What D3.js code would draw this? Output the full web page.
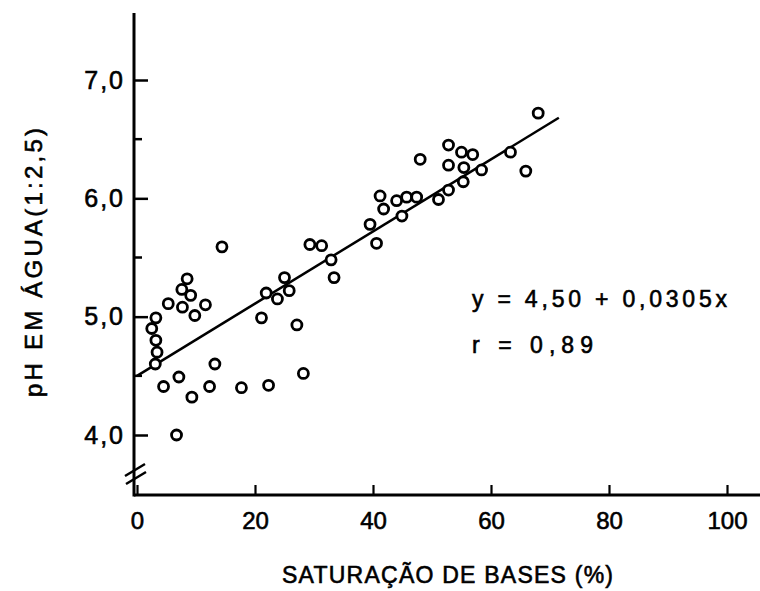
<!DOCTYPE html>
<html>
<head>
<meta charset="utf-8">
<script src="https://cdn.jsdelivr.net/npm/d3@7"></script>
<style>
  body { margin: 0; background: #fff; }
  svg text { font-family: "Liberation Sans", Arial, sans-serif; fill: #000; stroke: #000; stroke-width: 0.6px; }
</style>
</head>
<body>
<div id="chart"></div>
<script>
'use strict';
(function(){

	// data: base saturation (%) vs pH in water
	var satBases = [14.4, 8.5, 7.6, 9.1, 5.3, 7.7, 11.6, 9.8, 3.2, 2.5, 3.2, 3.4, 3.1,
		4.5, 7.1, 9.3, 12.3, 13.2, 17.7, 22.3, 28.2, 27.1, 21.1, 21.9, 23.8, 25.0, 25.8,
		29.3, 31.3, 32.9, 33.4, 6.7,
		68.0, 63.3, 65.9, 48.0, 52.8, 55.0, 56.9, 52.8, 55.4, 58.4, 55.3, 52.8, 51.1,
		41.2, 41.8, 44.0, 45.7, 47.4, 44.9, 39.5, 40.6];
	var phAgua = [5.59, 5.32, 5.23, 5.18, 5.11, 5.08, 5.10, 5.01, 4.99, 4.90, 4.80, 4.70, 4.60,
		4.41, 4.49, 4.32, 4.41, 4.60, 4.40, 4.42, 4.52, 4.93, 4.99, 5.20, 5.15, 5.33, 5.22,
		5.61, 5.60, 5.48, 5.33, 4.00,
		6.72, 6.39, 6.23, 6.33, 6.45, 6.39, 6.37, 6.28, 6.26, 6.24, 6.14, 6.07, 5.99,
		6.02, 5.91, 5.98, 6.01, 6.01, 5.85, 5.78, 5.62];

	var xTicks = [0, 20, 40, 60, 80, 100];
	var yTicks = [4, 5, 6, 7];
	var yMinorTicks = [4.5, 5.5, 6.5];

	// regression y = 4,50 + 0,0305x, drawn over x = 0 .. 71.5
	var intercept = 4.50, slope = 0.0305;
	var fitRange = [0, 71.5];

	var eqText = 'y = 4,50 + 0,0305x';
	var rText = 'r = 0,89';
	var xTitle = 'SATURAÇÃO DE BASES (%)';
	var yTitle = 'pH EM ÁGUA(1:2,5)';

	var width = 760, height = 591;
	var svg = d3.select('#chart').append('svg')
		.attr('width', width)
		.attr('height', height);

	var x = d3.scaleLinear().domain([0, 100]).range([137, 727]);
	var y = d3.scaleLinear().domain([4, 7]).range([435, 80]);
	var axisY = 495, axisX = 134, axisTop = 13;

	var comma = d3.formatLocale({decimal: ',', thousands: '.', grouping: [3], currency: ['', '']}).format('.1f');

	// x axis, ticks pointing up into the plot
	var gx = svg.append('g')
		.attr('transform', 'translate(0,' + axisY + ')')
		.call(d3.axisBottom(x).tickValues(xTicks).tickSizeInner(-10).tickSizeOuter(0).tickPadding(17));
	gx.select('.domain').remove();
	gx.selectAll('.tick line').attr('stroke', '#000').attr('stroke-width', 2.2);
	gx.selectAll('.tick text').attr('font-size', 24).attr('dy', '0.71em').attr('fill', '#000');

	svg.append('line')
		.attr('x1', axisX).attr('x2', 760)
		.attr('y1', axisY).attr('y2', axisY)
		.attr('stroke', '#000').attr('stroke-width', 3);

	// y axis, ticks pointing right
	var gy = svg.append('g')
		.attr('transform', 'translate(' + axisX + ',0)')
		.call(d3.axisLeft(y).tickValues(yTicks).tickFormat(comma).tickSizeInner(-14).tickSizeOuter(0).tickPadding(9));
	gy.select('.domain').remove();
	gy.selectAll('.tick line').attr('stroke', '#000').attr('stroke-width', 2.5);
	gy.selectAll('.tick text').attr('font-size', 25).attr('letter-spacing', 2).attr('fill', '#000');

	svg.append('g').selectAll('line')
		.data(yMinorTicks)
		.enter()
		.append('line')
		.attr('x1', axisX).attr('x2', axisX + 8)
		.attr('y1', function (d) { return y(d); })
		.attr('y2', function (d) { return y(d); })
		.attr('stroke', '#000').attr('stroke-width', 2.5);

	svg.append('line')
		.attr('x1', axisX).attr('x2', axisX)
		.attr('y1', axisTop).attr('y2', axisY + 1.5)
		.attr('stroke', '#000').attr('stroke-width', 3);

	// axis break marks
	svg.append('path')
		.attr('d', 'M125,476 L145,464 M126,484 L146,472')
		.attr('stroke', '#000').attr('stroke-width', 2.5).attr('fill', 'none');

	// regression line
	svg.append('line')
		.attr('x1', x(fitRange[0])).attr('y1', y(intercept + slope * fitRange[0]))
		.attr('x2', x(fitRange[1])).attr('y2', y(intercept + slope * fitRange[1]))
		.attr('stroke', '#000').attr('stroke-width', 2.5);

	// points
	svg.append('g').selectAll('circle')
		.data(satBases)
		.enter()
		.append('circle')
		.attr('cx', function (d) { return x(d); })
		.attr('cy', function (d, i) { return y(phAgua[i]); })
		.attr('r', 5)
		.attr('fill', '#fff')
		.attr('stroke', '#000')
		.attr('stroke-width', 2.8);

	// equation
	svg.append('text')
		.attr('x', 472).attr('y', 307)
		.attr('font-size', 23)
		.attr('textLength', 255).attr('lengthAdjust', 'spacing')
		.text(eqText);
	svg.append('text')
		.attr('x', 472).attr('y', 353)
		.attr('font-size', 23)
		.attr('textLength', 121).attr('lengthAdjust', 'spacing')
		.text(rText);

	// axis titles
	svg.append('text')
		.attr('x', 282).attr('y', 583)
		.attr('font-size', 23)
		.attr('textLength', 331).attr('lengthAdjust', 'spacing')
		.text(xTitle);
	svg.append('text')
		.attr('transform', 'translate(42,397) rotate(-90)')
		.attr('font-size', 24)
		.attr('textLength', 269).attr('lengthAdjust', 'spacing')
		.text(yTitle);

}());
</script>
</body>
</html>
